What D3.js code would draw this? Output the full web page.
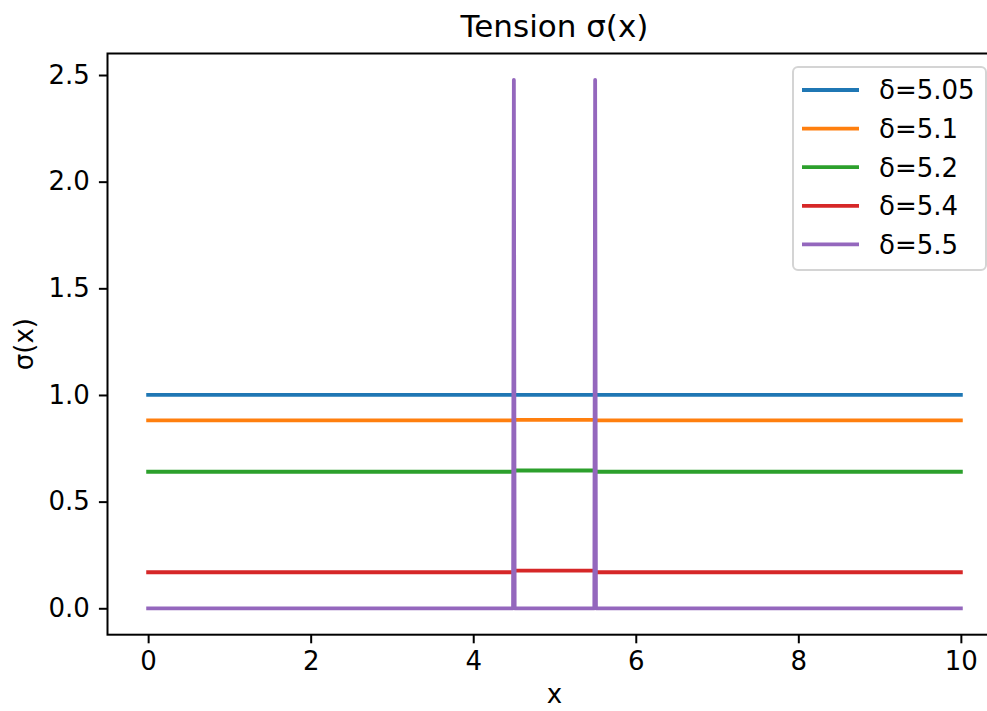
<!DOCTYPE html>
<html>
<head>
<script src="https://d3js.org/d3.v7.min.js"></script>
<style>
  body { margin: 0; background: #fff; }
  text { font-family: "DejaVu Sans", sans-serif; fill: #000; }
</style>
</head>
<body>
<svg id="chart" width="987" height="711"></svg>
<script>
// data
var labels = ["δ=5.05", "δ=5.1", "δ=5.2", "δ=5.4", "δ=5.5"];
var colors = ["#1f77b4", "#ff7f0e", "#2ca02c", "#d62728", "#9467bd"];
var blue   = [[0, 1.0], [10, 1.0]];
var orange = [[0, 0.881], [4.5, 0.881], [4.51, 0.883], [5.49, 0.883], [5.5, 0.881], [10, 0.881]];
var green  = [[0, 0.640], [4.5, 0.640], [4.51, 0.646], [5.49, 0.646], [5.5, 0.640], [10, 0.640]];
var red    = [[0, 0.169], [4.5, 0.169], [4.51, 0.177], [5.49, 0.177], [5.5, 0.169], [10, 0.169]];
var purple = [[0, 0], [4.49, 0], [4.5, 2.477], [4.51, 0], [5.49, 0], [5.5, 2.477], [5.51, 0], [10, 0]];
var series = [blue, orange, green, red, purple];
var xTicks = [0, 2, 4, 6, 8, 10];
var yTicks = [0.0, 0.5, 1.0, 1.5, 2.0, 2.5];

var svg = d3.select("#chart");
var pLeft = 107.5, pRight = 1001.5, pTop = 53.5, pBottom = 634.7;

// matplotlib-like 5% margins
var all = series.flat();
var xe = d3.extent(all, d => d[0]), ye = d3.extent(all, d => d[1]);
var xp = (xe[1] - xe[0]) * 0.05, yp = (ye[1] - ye[0]) * 0.05;
var x = d3.scaleLinear().domain([xe[0] - xp, xe[1] + xp]).range([pLeft, pRight]);
var y = d3.scaleLinear().domain([ye[0] - yp, ye[1] + yp]).range([pBottom, pTop]);

svg.append("clipPath").attr("id", "clip").append("rect")
    .attr("x", pLeft).attr("y", pTop).attr("width", pRight - pLeft).attr("height", pBottom - pTop);

var line = d3.line().x(d => x(d[0])).y(d => y(d[1]));
svg.append("g").attr("clip-path", "url(#clip)").selectAll("path")
    .data(series).enter().append("path")
    .attr("d", line)
    .attr("fill", "none")
    .attr("stroke", (d, i) => colors[i])
    .attr("stroke-width", 3.8)
    .attr("stroke-linecap", "square")
    .attr("stroke-linejoin", "round");

// axes
var fs = 26;
var xAxis = svg.append("g").attr("transform", `translate(0,${pBottom})`)
    .call(d3.axisBottom(x).tickValues(xTicks).tickFormat(d3.format("d")).tickSize(8.6).tickPadding(8));
var yAxis = svg.append("g").attr("transform", `translate(${pLeft},0)`)
    .call(d3.axisLeft(y).tickValues(yTicks).tickFormat(d3.format(".1f")).tickSize(8.6).tickPadding(9));
[xAxis, yAxis].forEach(a => {
    a.select(".domain").remove();
    a.selectAll(".tick line").attr("stroke", "#000").attr("stroke-width", 2);
    a.selectAll(".tick text").style("font-family", "DejaVu Sans").style("font-size", fs + "px").attr("fill", "#000");
});

// spines
svg.append("rect").attr("x", pLeft).attr("y", pTop).attr("width", pRight - pLeft).attr("height", pBottom - pTop)
    .attr("fill", "none").attr("stroke", "#000").attr("stroke-width", 2);

// title and axis labels
svg.append("text").attr("x", (pLeft + pRight) / 2).attr("y", 37).attr("text-anchor", "middle")
    .style("font-size", "31px").text("Tension σ(x)");
svg.append("text").attr("x", (pLeft + pRight) / 2).attr("y", 703).attr("text-anchor", "middle")
    .style("font-size", fs + "px").text("x");
svg.append("text").attr("text-anchor", "middle")
    .attr("transform", `translate(33,${(pTop + pBottom) / 2})rotate(-90)`)
    .style("font-size", fs + "px").text("σ(x)");

// legend
var lg = svg.append("g").attr("transform", "translate(793,67)");
lg.append("rect").attr("width", 193).attr("height", 203).attr("rx", 5)
    .attr("fill", "#fff").attr("fill-opacity", 0.8).attr("stroke", "#d4d4d4").attr("stroke-width", 2);
var items = lg.selectAll(".item").data(labels).enter().append("g")
    .attr("transform", (d, i) => `translate(0,${23 + 38.6 * i})`);
items.append("line").attr("x1", 9).attr("x2", 66)
    .attr("stroke", (d, i) => colors[i]).attr("stroke-width", 3.8);
items.append("text").attr("x", 86).attr("y", 9.3).style("font-size", fs + "px").text(d => d);
</script>
</body>
</html>
